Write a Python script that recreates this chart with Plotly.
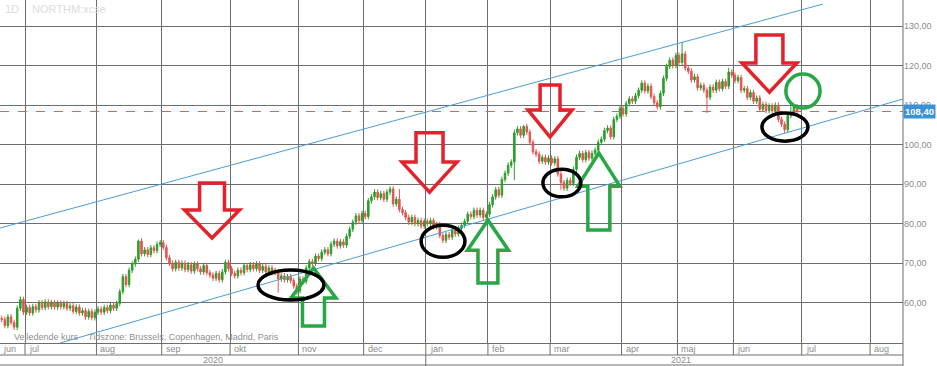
import plotly.graph_objects as go

# ---------------- data ----------------
FIRST_INDEX = -8          # trading-day index of first candle (19 jun 2020); 1 jul 2020 = 0
OPEN_FIRST = 56.0
CLOSE = [
    # jun 2020 (last days)
    55.8, 54.2, 56.4, 55.0, 53.8, 58.6, 60.8, 57.6,
    # jul
    58.8, 57.4, 59.0, 58.2, 60.0, 58.8, 60.2, 59.0, 60.0, 58.9, 59.9, 59.0, 59.8, 58.6, 59.2, 57.8,
    58.9, 57.4, 58.0, 56.4, 57.8, 56.2, 57.6,
    # aug
    58.4, 57.6, 58.8, 58.0, 59.4, 58.6, 59.8, 62.8, 66.6, 64.6, 68.2, 69.8, 71.0, 75.6, 72.4, 73.4,
    72.2, 73.9, 73.2, 74.8, 75.2,
    # sep
    74.0, 71.4, 70.0, 68.6, 70.2, 68.8, 70.0, 68.4, 69.6, 68.0, 69.8, 68.6, 67.8, 69.4, 67.6, 67.0,
    66.2, 67.4, 65.8, 67.8, 70.2, 68.6,
    # okt
    67.4, 66.8, 68.2, 67.6, 69.4, 68.4, 69.6, 68.6, 69.8, 68.2, 69.2, 67.8, 68.8, 67.6, 68.2, 66.0,
    66.8, 65.8, 66.6, 65.6, 64.2, 63.0,
    # nov
    66.0, 65.4, 68.8, 70.4, 70.0, 71.8, 71.2, 72.8, 73.4, 72.4, 74.8, 75.6, 74.4, 75.4, 74.6, 76.8,
    78.6, 80.4, 82.0, 80.8, 82.6,
    # dec
    81.8, 85.8, 86.8, 88.0, 86.6, 87.6, 86.2, 88.0, 88.8, 85.0, 86.2, 83.6, 82.8, 81.6, 80.4, 81.6,
    80.0, 80.8, 79.4, 80.6,
    # jan 2021
    80.0, 80.8, 79.2, 79.8, 77.0, 75.8, 77.2, 76.6, 78.4, 77.4, 78.8, 79.6, 80.6, 82.4, 81.8, 83.4,
    82.2, 83.4, 81.6, 82.4,
    # feb
    84.8, 86.8, 88.6, 87.2, 91.2, 92.8, 94.8, 95.6, 103.0, 104.0, 102.4, 104.6, 103.2, 100.6, 98.2,
    97.6, 95.8, 96.8, 95.6, 96.6,
    # mar
    95.4, 96.4, 92.6, 90.4, 89.0, 91.0, 90.2, 93.8, 96.8, 97.8, 96.2, 98.0, 96.6, 97.8, 98.6, 100.6,
    101.4, 103.6, 104.2, 102.0, 106.4, 107.2, 109.2,
    # apr
    107.8, 110.4, 111.6, 111.0, 112.4, 113.8, 115.6, 113.6, 114.8, 112.2, 110.6, 109.6, 113.0, 116.8,
    119.8, 121.4, 120.0, 122.6,
    # maj
    120.8, 123.0, 119.4, 118.6, 116.4, 117.2, 114.4, 115.0, 113.8, 112.0, 114.6, 113.8, 115.8, 114.2,
    116.0, 114.8, 118.4, 117.6,
    # jun
    116.2, 117.0, 113.8, 114.2, 112.0, 113.2, 111.0, 111.8, 109.0, 110.2, 108.6, 109.8, 108.6, 110.0,
    106.4, 105.2, 103.8, 107.4, 108.2, 109.6, 108.4,
]
DEFAULT_WICK = 0.7
LONG_HIGHS = {-2: 61.6, 36: 76.0, 81: 68.5, 120: 88.8, 157: 103.8, 160: 105.0, 211: 126.0, 226: 119.5, 246: 110.5}
LONG_LOWS = {81: 62.6, 87: 62.0, 157: 91.0, 172: 88.6, 219: 108.0, 244: 103.0}
LAST_PRICE = 108.40
LAST_PRICE_LABEL = "108,40"

MONTH_LABELS = ["jul", "aug", "sep", "okt", "nov", "dec", "jan", "feb", "mar", "apr", "maj", "jun", "jul", "aug"]
MONTH_START = [0, 23, 44, 66, 88, 109, 129, 149, 169, 192, 210, 228, 250, 272]
FIRST_MONTH_LABEL = "jun"
YEAR_LABELS = ["2020", "2021"]
YEAR_SPLIT = 129  # first trading day of 2021

Y_TICKS = [60, 70, 80, 90, 100, 110, 120, 130]
Y_TICK_TEXT = ["60,00", "70,00", "80,00", "90,00", "100,00", "110,00", "120,00", "130,00"]

# trend channel (index, price)
CHANNEL_UPPER = [(-8.55, 78.9), (256.3, 135.6)]
CHANNEL_LOWER = [(10.76, 49.8), (282.1, 111.57)]

# annotation drawings: (center index, tip price, head-base price, stem-end price, head half-width, stem half-width)
RED_DOWN_ARROWS = [
    (59.7, 76.4, 83.5, 90.3, 8.85, 4.0),
    (129.7, 88.0, 95.6, 103.0, 8.85, 4.35),
    (168.5, 101.95, 108.8, 115.1, 7.1, 3.2),
    (239.1, 113.3, 120.7, 127.8, 8.85, 4.35),
]
GREEN_UP_ARROWS = [
    (92.35, 68.8, 61.2, 54.1, 7.24, 3.54),
    (148.5, 80.9, 73.3, 65.0, 6.6, 3.2),
    (184.2, 97.9, 89.5, 78.4, 6.76, 3.54),
]
BLACK_ELLIPSES = [  # (x0, x1, y0, y1)
    (74.5, 95.7, 60.7, 68.3),
    (127.0, 141.1, 71.5, 79.6),
    (166.2, 178.4, 86.8, 93.8),
    (236.7, 251.5, 100.9, 108.0),
]
GREEN_CIRCLES = [(244.4, 255.4, 109.3, 117.9)]

# ---------------- styling / geometry ----------------
W, H = 937, 366
ML, MR, MT, MB = 0, 34, 0, 23
PLOT_W = W - ML - MR
PLOT_H = H - MT - MB
X_RANGE = [-8.55, 282.1]
Y_RANGE = [49.8, 136.63]
GRID = "#6e6e6e"
TXT = "#8c8c8c"
FONT = "Liberation Sans"

x = list(range(FIRST_INDEX, FIRST_INDEX + len(CLOSE)))
opens = [OPEN_FIRST] + CLOSE[:-1]
highs, lows = [], []
for i, o, c in zip(x, opens, CLOSE):
    highs.append(LONG_HIGHS.get(i, max(o, c) + DEFAULT_WICK))
    lows.append(LONG_LOWS.get(i, min(o, c) - DEFAULT_WICK))


def xp(v):
    return (v - X_RANGE[0]) / (X_RANGE[1] - X_RANGE[0])


def yp_px(py):
    # pixel offset from top of page -> paper y
    return (PLOT_H - (py - MT)) / PLOT_H


fig = go.Figure()
fig.add_trace(go.Candlestick(
    x=x, open=opens, high=highs, low=lows, close=CLOSE,
    increasing=dict(line=dict(color="#2b9f2b", width=1), fillcolor="#2b9f2b"),
    decreasing=dict(line=dict(color="#e5534f", width=1), fillcolor="#e5534f"),
    whiskerwidth=0, showlegend=False, hoverinfo="skip",
))

shapes = []
# channel lines
for seg in (CHANNEL_UPPER, CHANNEL_LOWER):
    shapes.append(dict(type="line", xref="x", yref="y", x0=seg[0][0], y0=seg[0][1], x1=seg[1][0], y1=seg[1][1],
                       line=dict(color="#4a9ddb", width=1), layer="above"))
# last price dashed line
shapes.append(dict(type="line", xref="paper", yref="y", x0=0, x1=1, y0=LAST_PRICE, y1=LAST_PRICE,
                   line=dict(color="#ea5a5a", width=1, dash="dash"), layer="above"))

for cx, tip, base, end, hw, sw in RED_DOWN_ARROWS + GREEN_UP_ARROWS:
    pts = [(cx - sw, end), (cx + sw, end), (cx + sw, base), (cx + hw, base), (cx, tip), (cx - hw, base), (cx - sw, base)]
    color = "#e3222b" if tip < base else "#28a745"
    path = "M " + " L ".join(f"{a},{b}" for a, b in pts) + " Z"
    shapes.append(dict(type="path", xref="x", yref="y", path=path, line=dict(color=color, width=3.5), layer="above"))

for x0, x1, y0, y1 in BLACK_ELLIPSES:
    shapes.append(dict(type="circle", xref="x", yref="y", x0=x0, x1=x1, y0=y0, y1=y1,
                       line=dict(color="#000000", width=3.5), layer="above"))
for x0, x1, y0, y1 in GREEN_CIRCLES:
    shapes.append(dict(type="circle", xref="x", yref="y", x0=x0, x1=x1, y0=y0, y1=y1,
                       line=dict(color="#28a745", width=3.5), layer="above"))

# date axis rows
row1 = yp_px(355)
row2 = yp_px(365)
bottom = yp_px(366)
for yy in (row1, row2):
    shapes.append(dict(type="line", xref="paper", yref="paper", x0=0, x1=1, y0=yy, y1=yy,
                       line=dict(color=GRID, width=1)))
shapes.append(dict(type="line", xref="paper", yref="paper", x0=1, x1=1, y0=bottom, y1=1,
                   line=dict(color=GRID, width=1)))
for b in MONTH_START:
    px_ = xp(b - 0.5)
    if px_ > 1:
        continue
    shapes.append(dict(type="line", xref="paper", yref="paper", x0=px_, x1=px_,
                       y0=(bottom if b == YEAR_SPLIT else row1), y1=0,
                       line=dict(color=GRID, width=1)))

annotations = []
month_y = (0 + row1) / 2
annotations.append(dict(xref="paper", yref="paper", x=1 / PLOT_W, y=month_y, text=FIRST_MONTH_LABEL,
                        showarrow=False, xanchor="left", yanchor="middle", font=dict(size=9, color=TXT, family=FONT)))
for lab, b in zip(MONTH_LABELS, MONTH_START):
    px_ = xp(b - 0.5)
    if px_ > 1:
        continue
    annotations.append(dict(xref="paper", yref="paper", x=px_ + 2 / PLOT_W, y=month_y, text=lab, showarrow=False,
                            xanchor="left", yanchor="middle", font=dict(size=9, color=TXT, family=FONT)))
year_y = (row1 + row2) / 2
split = xp(YEAR_SPLIT - 0.5)
for lab, cx in zip(YEAR_LABELS, [split / 2, (split + W / PLOT_W) / 2]):
    annotations.append(dict(xref="paper", yref="paper", x=cx, y=year_y, text=lab, showarrow=False,
                            xanchor="center", yanchor="middle", font=dict(size=9, color=TXT, family=FONT)))

# last price tag
annotations.append(dict(xref="paper", yref="y", x=1, y=LAST_PRICE, text="<b>" + LAST_PRICE_LABEL + "</b>",
                        showarrow=False, xanchor="left", yanchor="middle", bgcolor="#3a92d8",
                        font=dict(size=9.5, color="white", family=FONT), borderpad=1))
# watermark and footnote
annotations.append(dict(xref="paper", yref="paper", x=3 / PLOT_W, y=yp_px(9), text="1D", showarrow=False,
                        xanchor="left", yanchor="middle", font=dict(size=11, color="#dcdcdc", family=FONT)))
annotations.append(dict(xref="paper", yref="paper", x=30 / PLOT_W, y=yp_px(9), text="NORTHM:xcse", showarrow=False,
                        xanchor="left", yanchor="middle", font=dict(size=11, color="#dcdcdc", family=FONT)))
annotations.append(dict(xref="paper", yref="paper", x=12 / PLOT_W, y=yp_px(337),
                        text="Vejledende kurs\u00a0\u00a0\u00a0\u00a0Tidszone: Brussels, Copenhagen, Madrid, Paris",
                        showarrow=False, xanchor="left", yanchor="middle", font=dict(size=9, color="#909090", family=FONT)))

fig.update_layout(
    width=W, height=H, margin=dict(l=ML, r=MR, t=MT, b=MB),
    paper_bgcolor="white", plot_bgcolor="white",
    shapes=shapes, annotations=annotations, showlegend=False,
    xaxis=dict(range=X_RANGE, tickvals=[b - 0.5 for b in MONTH_START], showticklabels=False, ticks="",
               showgrid=True, gridcolor=GRID, gridwidth=1, zeroline=False, showline=True, linecolor=GRID,
               rangeslider=dict(visible=False), fixedrange=True),
    yaxis=dict(range=Y_RANGE, side="right", tickvals=Y_TICKS, ticktext=Y_TICK_TEXT, ticks="",
               showgrid=True, gridcolor=GRID, gridwidth=1, zeroline=False, showline=False,
               tickfont=dict(size=9, color=TXT, family=FONT), fixedrange=True),
)

fig.write_html("out.html")
